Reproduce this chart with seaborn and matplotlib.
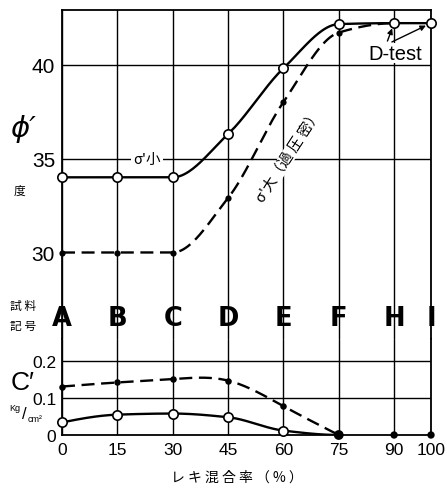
import numpy as np
import matplotlib
matplotlib.use("Agg")
import matplotlib.pyplot as plt
import seaborn as sns

# ---- data ---------------------------------------------------------------
mix_pct = [0, 15, 30, 45, 60, 75, 90, 100]          # レキ混合率 (%)
sample_codes = ["A", "B", "C", "D", "E", "F", "H", "I"]

# internal friction angle phi' (degrees)
phi_small_x = [0, 15, 30, 45, 60, 75, 90, 100]       # sigma' small
phi_small = [34.0, 34.0, 34.0, 36.3, 39.8, 42.15, 42.2, 42.2]
phi_large_x = [0, 15, 30, 45, 60, 75]                # sigma' large (over-consolidated)
phi_large = [30.0, 30.0, 30.0, 32.9, 38.0, 41.7]
phi_merge_x = [90]                                   # dashed curve joins the solid one
phi_merge = [42.2]

# cohesion c' (kg/cm2)
c_small_x = [0, 15, 30, 45, 60]
c_small = [0.034, 0.055, 0.058, 0.048, 0.012]
c_large_x = [0, 15, 30, 45, 60]
c_large = [0.131, 0.142, 0.151, 0.147, 0.078]
c_zero_x = [75, 90, 100]
c_zero = [0.0, 0.0, 0.0]

phi_ticks = [30, 35, 40]
c_ticks = [0, 0.1, 0.2]
c_tick_labels = ["0", "0.1", "0.2"]


# ---- smooth curve helpers ----------------------------------------------
def _edge(h0, h1, d0, d1):
    m = ((2 * h0 + h1) * d0 - h0 * d1) / (h0 + h1)
    if np.sign(m) != np.sign(d0):
        return 0.0
    if np.sign(d0) != np.sign(d1) and abs(m) > abs(3 * d0):
        return 3 * d0
    return m


def pchip(x, y, n=300):
    x = np.asarray(x, float)
    y = np.asarray(y, float)
    h = np.diff(x)
    d = np.diff(y) / h
    m = np.zeros_like(y)
    for k in range(1, len(x) - 1):
        if d[k - 1] * d[k] > 0:
            w1 = 2 * h[k] + h[k - 1]
            w2 = h[k] + 2 * h[k - 1]
            m[k] = (w1 + w2) / (w1 / d[k - 1] + w2 / d[k])
    m[0] = _edge(h[0], h[1], d[0], d[1])
    m[-1] = _edge(h[-1], h[-2], d[-1], d[-2])
    xs = np.linspace(x[0], x[-1], n)
    i = np.clip(np.searchsorted(x, xs) - 1, 0, len(h) - 1)
    t = (xs - x[i]) / h[i]
    ys = ((2 * t**3 - 3 * t**2 + 1) * y[i] + (t**3 - 2 * t**2 + t) * h[i] * m[i]
          + (-2 * t**3 + 3 * t**2) * y[i + 1] + (t**3 - t**2) * h[i] * m[i + 1])
    return xs, ys


def natural_spline(x, y, n=300):
    x = np.asarray(x, float)
    y = np.asarray(y, float)
    N = len(x)
    h = np.diff(x)
    A = np.zeros((N, N))
    r = np.zeros(N)
    A[0, 0] = A[-1, -1] = 1
    for k in range(1, N - 1):
        A[k, k - 1] = h[k - 1]
        A[k, k] = 2 * (h[k - 1] + h[k])
        A[k, k + 1] = h[k]
        r[k] = 6 * ((y[k + 1] - y[k]) / h[k] - (y[k] - y[k - 1]) / h[k - 1])
    M = np.linalg.solve(A, r)
    xs = np.linspace(x[0], x[-1], n)
    i = np.clip(np.searchsorted(x, xs) - 1, 0, N - 2)
    a = x[i + 1] - xs
    b = xs - x[i]
    ys = (M[i] * a**3 / (6 * h[i]) + M[i + 1] * b**3 / (6 * h[i])
          + (y[i] / h[i] - M[i] * h[i] / 6) * a + (y[i + 1] / h[i] - M[i + 1] * h[i] / 6) * b)
    return xs, ys


# ---- figure -------------------------------------------------------------
sns.set_theme(style="white")
plt.rcParams["font.family"] = ["Liberation Sans", "DejaVu Sans"]
JP = ["Noto Sans CJK JP", "DejaVu Sans"]

W, H = 447, 489
fig = plt.figure(figsize=(W / 100, H / 100), dpi=100)
fig.patch.set_facecolor("white")


def fig_rect(l, t, r, b):
    return [l / W, 1 - b / H, (r - l) / W, (b - t) / H]


def px(x, y):
    return x / W, 1 - y / H


ax = fig.add_axes(fig_rect(62, 11, 431, 340))     # phi'
axc = fig.add_axes(fig_rect(62, 340, 431, 436))   # c'

INK = "black"
LW = 1.7
DASH = (0, (5.5, 2.8))
GRID = dict(color=INK, lw=1.0, zorder=1)

for a in (ax, axc):
    a.set_facecolor("white")
    a.set_xlim(0, 100)
    a.set_xticks(mix_pct)
    for xv in mix_pct:
        a.axvline(xv, **GRID)
    for s in a.spines.values():
        s.set_color(INK)
        s.set_linewidth(1.3)
    a.tick_params(length=0, colors=INK)

# ---- upper panel: phi' ----
ax.set_ylim(25.4, 42.9)
ax.spines["bottom"].set_visible(False)
ax.set_xticklabels([])
ax.set_yticks(phi_ticks)
ax.tick_params(axis="y", labelsize=15, pad=5)
for yv in (35, 40):
    ax.axhline(yv, **GRID)

xs, ys = pchip(phi_small_x, phi_small)
sns.lineplot(x=xs, y=ys, ax=ax, color=INK, lw=LW, sort=False, estimator=None, zorder=3)
xs, ys = pchip(phi_large_x + phi_merge_x, phi_large + phi_merge)
sns.lineplot(x=xs, y=ys, ax=ax, color=INK, lw=LW, linestyle=DASH, sort=False,
             estimator=None, zorder=3)
sns.scatterplot(x=phi_large_x, y=phi_large, ax=ax, color=INK, s=20, linewidth=0,
                zorder=5, clip_on=False)
sns.scatterplot(x=phi_small_x, y=phi_small, ax=ax, color="white", edgecolor=INK,
                s=45, linewidth=1.2, zorder=6, clip_on=False)

for xv, code in zip(mix_pct, sample_codes):
    ax.text(xv, 26.5, code, ha="center", va="center", fontsize=18.5,
            fontweight="heavy", family="DejaVu Sans", color=INK, zorder=7)

ax.text(23, 35, "σ'小", ha="center", va="center", fontsize=10.5, family=JP,
        color=INK, zorder=4,
        bbox=dict(facecolor="white", edgecolor="none", pad=1.5))
ax.text(61.5, 35.2, "σ'大（過 圧 密）", ha="center", va="center", fontsize=10.5,
        family=JP, rotation=57, rotation_mode="anchor", color=INK, zorder=4,
        bbox=dict(facecolor="white", edgecolor="none", pad=0.3))

ax.text(90.3, 40.6, "D-test", ha="center", va="center", fontsize=14.5,
        color=INK, zorder=7,
        bbox=dict(facecolor="white", edgecolor="none", pad=0.5))
arrow = dict(arrowstyle="-|>", color=INK, lw=1.0, mutation_scale=8, shrinkA=0, shrinkB=4)
ax.annotate("", xy=(90, 42.2), xytext=(88.2, 41.25), arrowprops=arrow, zorder=8)
ax.annotate("", xy=(100, 42.2), xytext=(89.4, 41.2), arrowprops=arrow, zorder=8)

# ---- lower panel: c' ----
axc.set_ylim(0, 0.2595)
axc.spines["top"].set_visible(False)
axc.set_yticks(c_ticks)
axc.set_yticklabels(c_tick_labels)
axc.tick_params(axis="y", labelsize=12.5, pad=4)
axc.tick_params(axis="x", labelsize=12.5, pad=5)
for yv in (0.1, 0.2):
    axc.axhline(yv, **GRID)

xs, ys = pchip(c_small_x + c_zero_x[:1], c_small + c_zero[:1])
sns.lineplot(x=xs, y=np.clip(ys, 0, None), ax=axc, color=INK, lw=LW, sort=False,
             estimator=None, zorder=3)
xs, ys = natural_spline(c_large_x + c_zero_x[:1], c_large + c_zero[:1])
sns.lineplot(x=xs, y=np.clip(ys, 0, None), ax=axc, color=INK, lw=LW, linestyle=DASH,
             sort=False, estimator=None, zorder=3)
sns.scatterplot(x=c_large_x, y=c_large, ax=axc, color=INK, s=22, linewidth=0,
                zorder=5, clip_on=False)
sns.scatterplot(x=c_small_x, y=c_small, ax=axc, color="white", edgecolor=INK,
                s=45, linewidth=1.2, zorder=6, clip_on=False)
sns.scatterplot(x=c_zero_x, y=c_zero, ax=axc, color=INK, s=[50, 28, 28], linewidth=0,
                zorder=6, clip_on=False, legend=False)
axc.set_xlabel("")
axc.set_ylabel("")
ax.set_xlabel("")
ax.set_ylabel("")

# ---- side captions ----
fig.text(*px(23, 129), "ϕ′", fontsize=21, style="italic", family="DejaVu Sans",
         ha="center", va="center", color=INK)
fig.text(*px(20, 191), "度", fontsize=8.5, family=JP, ha="center", va="center", color=INK)
fig.text(*px(23, 306), "試 料", fontsize=8.5, family=JP, ha="center", va="center", color=INK)
fig.text(*px(23, 326), "記 号", fontsize=8.5, family=JP, ha="center", va="center", color=INK)
fig.text(*px(23, 383), "C′", fontsize=19, ha="center", va="center", color=INK)
fig.text(*px(15, 409), "Kg", fontsize=6.5, ha="center", va="center", color=INK)
fig.text(*px(24, 415), "/", fontsize=12, ha="center", va="center", color=INK)
fig.text(*px(35, 420), "cm²", fontsize=6.5, ha="center", va="center", color=INK)
fig.text(*px(237, 478), "レ キ 混 合 率 （ % ）", fontsize=10, family=JP,
         ha="center", va="center", color=INK)

fig.savefig("out.png", dpi=100, facecolor="white")
